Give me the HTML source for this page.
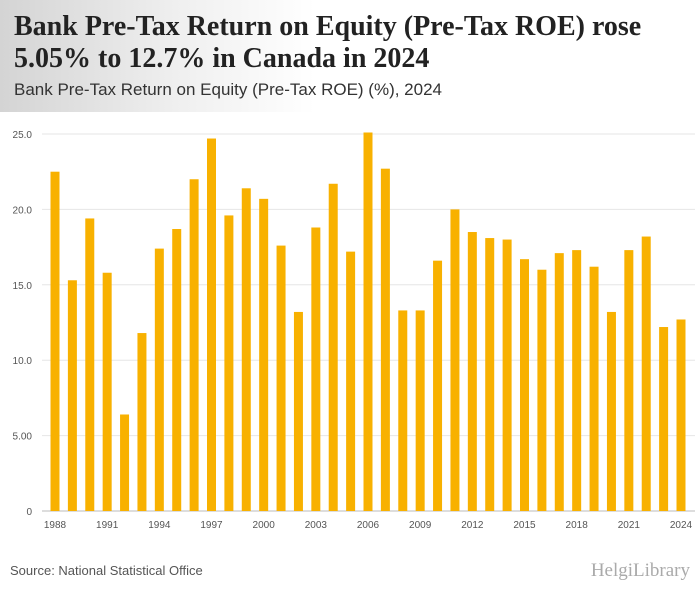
<!DOCTYPE html>
<html><head><meta charset="utf-8"><style>
body{margin:0;width:700px;height:596px;background:#fff;overflow:hidden;font-family:"Liberation Sans",sans-serif}
#hdr{position:absolute;left:0;top:0;width:700px;height:112px;background:linear-gradient(90deg,#d4d4d4 0%,#efefef 25%,#fff 45%)}
#t{position:absolute;left:14px;top:11px;font-family:"Liberation Serif",serif;font-weight:bold;font-size:28px;line-height:32px;color:#222}
#st{position:absolute;left:14px;top:80px;font-size:17px;color:#333}
#src{position:absolute;left:10px;top:563px;font-size:13px;color:#555}
#logo{position:absolute;right:10px;top:560px;font-size:19px;color:#aaa;font-family:"Liberation Serif",serif}
</style></head><body>
<div id="hdr"></div>
<div id="t">Bank Pre-Tax Return on Equity (Pre-Tax ROE) rose<br>5.05% to 12.7% in Canada in 2024</div>
<div id="st">Bank Pre-Tax Return on Equity (Pre-Tax ROE) (%), 2024</div>
<svg id="c" width="700" height="596" style="position:absolute;left:0;top:0"></svg>
<div id="src">Source: National Statistical Office</div>
<div id="logo">HelgiLibrary</div>
<script>
const years=[1988,1989,1990,1991,1992,1993,1994,1995,1996,1997,1998,1999,2000,2001,2002,2003,2004,2005,2006,2007,2008,2009,2010,2011,2012,2013,2014,2015,2016,2017,2018,2019,2020,2021,2022,2023,2024];
const values=[22.5,15.3,19.4,15.8,6.4,11.8,17.4,18.7,22.0,24.7,19.6,21.4,20.7,17.6,13.2,18.8,21.7,17.2,25.1,22.7,13.3,13.3,16.6,20.0,18.5,18.1,18.0,16.7,16.0,17.1,17.3,16.2,13.2,17.3,18.2,12.2,12.7];
const yTicks=[0,5,10,15,20,25];
const yTickLabels=["0","5.00","10.0","15.0","20.0","25.0"];
const xLabelYears=[1988,1991,1994,1997,2000,2003,2006,2009,2012,2015,2018,2021,2024];
const NS="http://www.w3.org/2000/svg",svg=document.getElementById('c');
const y=v=>511-v*15.08;
const x=i=>55+i*(681-55)/(years.length-1);
function mk(t,a){const e=document.createElementNS(NS,t);for(const k in a)e.setAttribute(k,a[k]);svg.appendChild(e);return e;}
yTicks.forEach((v,i)=>{
 const l=mk('line',{x1:42,x2:695,y1:y(v),y2:y(v),stroke:v?'#e6e6e6':'#bbb','stroke-width':1});
 
 
 const t=mk('text',{x:32,y:y(v)+4,'text-anchor':'end','font-size':10,fill:'#555','font-family':'Liberation Sans'});
 t.textContent=yTickLabels[i];
 
 
});
values.forEach((v,i)=>{
 const r=mk('rect',{x:x(i)-4.5,y:y(v),width:9,height:y(0)-y(v),fill:'#f8b100'});
 
 
});
xLabelYears.forEach(yr=>{
 const i=years.indexOf(yr);
 const t=mk('text',{x:x(i),y:528,'text-anchor':'middle','font-size':10,fill:'#555','font-family':'Liberation Sans'});
 t.textContent=yr;
 
 
});
</script>
</body></html>
